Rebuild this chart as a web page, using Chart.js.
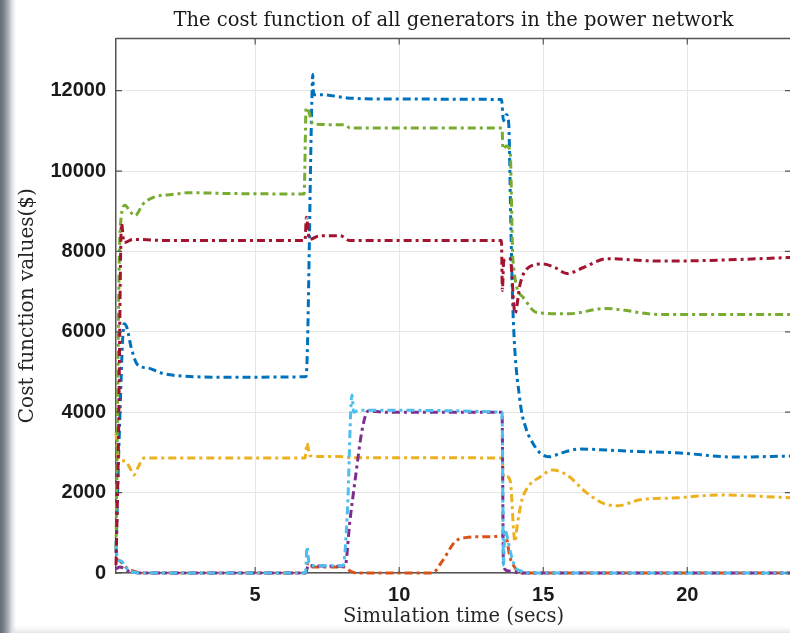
<!DOCTYPE html>
<html>
<head>
<meta charset="utf-8">
<script src="https://cdn.jsdelivr.net/npm/chart.js@4.4.1/dist/chart.umd.min.js"></script>
<style>
  html, body {
    margin: 0;
    padding: 0;
    width: 790px;
    height: 633px;
    overflow: hidden;
  }
  body {
    background:
      linear-gradient(to right, #656b77 0px, #7d838e 4px, #a9adb5 8px, #dfe1e4 12px, rgba(255,255,255,0) 16px),
      linear-gradient(to top, #e4e4e4 0px, #f4f4f4 3px, #ffffff 7px);
  }
  #wrap {
    position: absolute;
    left: 0;
    top: 0;
    width: 800px;
    height: 633px;
  }
</style>
</head>
<body>
<div id="wrap"><canvas id="costChart" width="800" height="633"></canvas></div>
<script>
// tick values
const xTicks = [5, 10, 15, 20];
const yTicks = [0, 2000, 4000, 6000, 8000, 10000, 12000];

// generator 1 (blue)
const gen1Time = [0.17, 0.3, 0.45, 0.55, 0.7, 0.93, 1.28, 1.77, 2.04, 2.98, 4.5, 6.73, 6.77, 6.97, 7.0, 7.03, 7.3, 8.19, 9.5, 13.55, 13.62, 13.72, 13.8, 13.88, 13.95, 14.19, 14.4, 14.64, 14.9, 15.23, 15.6, 16.28, 17.2, 18.0, 19.75, 21.59, 23.6];
const gen1Cost = [500, 3800, 6200, 6100, 5600, 5170, 5100, 4970, 4930, 4880, 4870, 4880, 4900, 11800, 12400, 11900, 11900, 11820, 11790, 11780, 11250, 11400, 11200, 8500, 6500, 4300, 3600, 3230, 2980, 2890, 2980, 3085, 3060, 3030, 2985, 2885, 2910];

// generator 2 (orange)
const gen2Time = [0.17, 0.3, 0.5, 0.8, 1.2, 6.75, 6.85, 7.0, 8.1, 8.3, 8.5, 11.14, 11.5, 11.94, 12.3, 12.8, 13.57, 13.67, 13.85, 14.0, 14.2, 23.6];
const gen2Cost = [350, 300, 150, 40, 0, 0, 250, 150, 150, 50, 0, 0, 300, 780, 880, 900, 920, 1000, 380, 150, 0, 0];

// generator 3 (yellow)
const gen3Time = [0.17, 0.24, 0.31, 0.5, 0.66, 0.79, 0.95, 1.14, 2.0, 6.73, 6.8, 6.9, 7.2, 7.9, 8.3, 13.57, 13.62, 13.72, 13.85, 14.02, 14.1, 14.26, 14.47, 14.89, 15.33, 15.82, 16.5, 17.07, 17.56, 18.36, 19.64, 21.13, 22.76, 23.6];
const gen3Cost = [3500, 2900, 2800, 2780, 2600, 2440, 2650, 2860, 2860, 2860, 3230, 2920, 2900, 2900, 2870, 2860, 2380, 2400, 2300, 780, 1200, 1820, 2140, 2390, 2560, 2440, 2000, 1740, 1670, 1820, 1870, 1940, 1900, 1870];

// generator 4 (purple)
const gen4Time = [0.17, 0.3, 0.6, 1.0, 6.75, 6.85, 7.0, 8.12, 8.29, 8.47, 8.71, 8.92, 9.5, 13.57, 13.62, 13.8, 14.2, 23.6];
const gen4Cost = [100, 150, 50, 0, 0, 200, 180, 170, 1300, 2310, 3550, 4030, 4000, 4000, 150, 50, 0, 0];

// generator 5 (green)
const gen5Time = [0.17, 0.31, 0.48, 0.65, 0.83, 1.11, 1.45, 2.29, 2.63, 4.23, 6.7, 6.77, 6.85, 7.01, 8.1, 8.3, 13.57, 13.6, 13.72, 13.85, 13.95, 14.3, 14.78, 15.9, 17.14, 19.05, 23.6];
const gen5Cost = [600, 8500, 9150, 9000, 8890, 9180, 9340, 9430, 9460, 9440, 9430, 11580, 11500, 11170, 11150, 11070, 11070, 10550, 10620, 10500, 7770, 6860, 6480, 6450, 6580, 6430, 6430];

// generator 6 (light blue)
const gen6Time = [0.17, 0.22, 0.35, 0.5, 0.7, 1.0, 6.75, 6.8, 6.87, 7.0, 8.05, 8.2, 8.36, 8.42, 8.6, 13.57, 13.62, 13.67, 13.75, 13.85, 14.02, 14.19, 14.5, 23.6];
const gen6Cost = [800, 320, 300, 150, 40, 0, 0, 650, 250, 180, 180, 1500, 4430, 4000, 4050, 4000, 200, 1070, 900, 550, 150, 60, 0, 0];

// generator 7 (dark red)
const gen7Time = [0.17, 0.25, 0.36, 0.45, 0.76, 2.0, 6.73, 6.78, 6.88, 7.25, 7.95, 8.29, 13.55, 13.58, 13.63, 13.85, 14.02, 14.2, 14.44, 14.99, 15.4, 15.82, 16.4, 17.21, 19.0, 20.44, 23.6];
const gen7Cost = [200, 3000, 8690, 8220, 8300, 8270, 8270, 8850, 8300, 8390, 8390, 8270, 8270, 7030, 7770, 7820, 6460, 7200, 7570, 7690, 7600, 7450, 7600, 7820, 7760, 7770, 7850];

const seriesTimes = [gen1Time, gen2Time, gen3Time, gen4Time, gen5Time, gen6Time, gen7Time];
const seriesCosts = [gen1Cost, gen2Cost, gen3Cost, gen4Cost, gen5Cost, gen6Cost, gen7Cost];
const seriesColors = ["#0072BD", "#D95319", "#EDB120", "#7E2F8E", "#77AC30", "#4DBEEE", "#A2142F"];

const toPoints = (t, c) => t.map((x, i) => ({ x: x, y: c[i] }));

const datasets = seriesTimes.map((t, i) => ({
  label: "Generator " + (i + 1),
  data: toPoints(t, seriesCosts[i]),
  borderColor: seriesColors[i],
  borderWidth: 3,
  borderDash: [8, 4, 3, 4],
  pointRadius: 0,
  fill: false,
  cubicInterpolationMode: "monotone",
  clip: false,
  order: seriesTimes.length - i,
}));

// MATLAB-like box: top/right border and inward tick marks
const boxPlugin = {
  id: "box",
  afterDraw(chart) {
    const { ctx, chartArea: a, scales } = chart;
    ctx.save();
    ctx.strokeStyle = "#555";
    ctx.lineWidth = 1.5;
    ctx.beginPath();
    ctx.moveTo(a.left, a.top);
    ctx.lineTo(a.right, a.top);
    ctx.lineTo(a.right, a.bottom);
    ctx.stroke();
    ctx.lineWidth = 1.2;
    ctx.beginPath();
    xTicks.forEach((v) => {
      const px = scales.x.getPixelForValue(v);
      ctx.moveTo(px, a.bottom);
      ctx.lineTo(px, a.bottom - 6);
      ctx.moveTo(px, a.top);
      ctx.lineTo(px, a.top + 6);
    });
    yTicks.forEach((v) => {
      const py = scales.y.getPixelForValue(v);
      ctx.moveTo(a.left, py);
      ctx.lineTo(a.left + 6, py);
      ctx.moveTo(a.right, py);
      ctx.lineTo(a.right - 6, py);
    });
    ctx.stroke();
    ctx.restore();
  },
};

const serif = "'DejaVu Serif', 'Liberation Serif', serif";
const sans = "'Liberation Sans', Arial, sans-serif";

new Chart(document.getElementById("costChart").getContext("2d"), {
  type: "line",
  data: { datasets: datasets },
  plugins: [boxPlugin],
  options: {
    responsive: false,
    animation: false,
    devicePixelRatio: 1,
    layout: { padding: { left: 0, right: 9, top: 0, bottom: 0 } },
    scales: {
      x: {
        type: "linear",
        min: 0.17,
        max: 23.6,
        afterFit: (s) => { s.height = 60; },
        afterBuildTicks: (s) => { s.ticks = xTicks.map((v) => ({ value: v })); },
        ticks: {
          padding: 10,
          color: "#1a1a1a",
          font: { family: sans, size: 20, weight: "bold" },
          maxRotation: 0,
          autoSkip: false,
          callback: (v) => String(v),
        },
        grid: { color: "#e6e6e6", lineWidth: 1, drawTicks: false },
        border: { color: "#555", width: 1.5 },
        title: {
          display: true,
          text: "Simulation time (secs)",
          color: "#262626",
          font: { family: serif, size: 19.5, weight: "normal" },
          padding: { top: 0, bottom: 4 },
        },
      },
      y: {
        type: "linear",
        min: 0,
        max: 13300,
        afterFit: (s) => { s.width = 116; },
        afterBuildTicks: (s) => { s.ticks = yTicks.map((v) => ({ value: v })); },
        ticks: {
          padding: 10,
          color: "#1a1a1a",
          font: { family: sans, size: 20, weight: "bold" },
          autoSkip: false,
          callback: (v) => String(v),
        },
        grid: { color: "#e6e6e6", lineWidth: 1, drawTicks: false },
        border: { color: "#555", width: 1.5 },
        title: {
          display: true,
          text: "Cost function values($)",
          color: "#262626",
          font: { family: serif, size: 20, weight: "normal" },
          padding: { top: 16, bottom: 0 },
        },
      },
    },
    plugins: {
      legend: { display: false },
      tooltip: { enabled: false },
      title: {
        display: true,
        fullSize: false,
        text: "The cost function of all generators in the power network",
        color: "#1a1a1a",
        font: { family: serif, size: 19.5, weight: "normal" },
        padding: { top: 9, bottom: 6 },
      },
    },
  },
});
</script>
</body>
</html>
